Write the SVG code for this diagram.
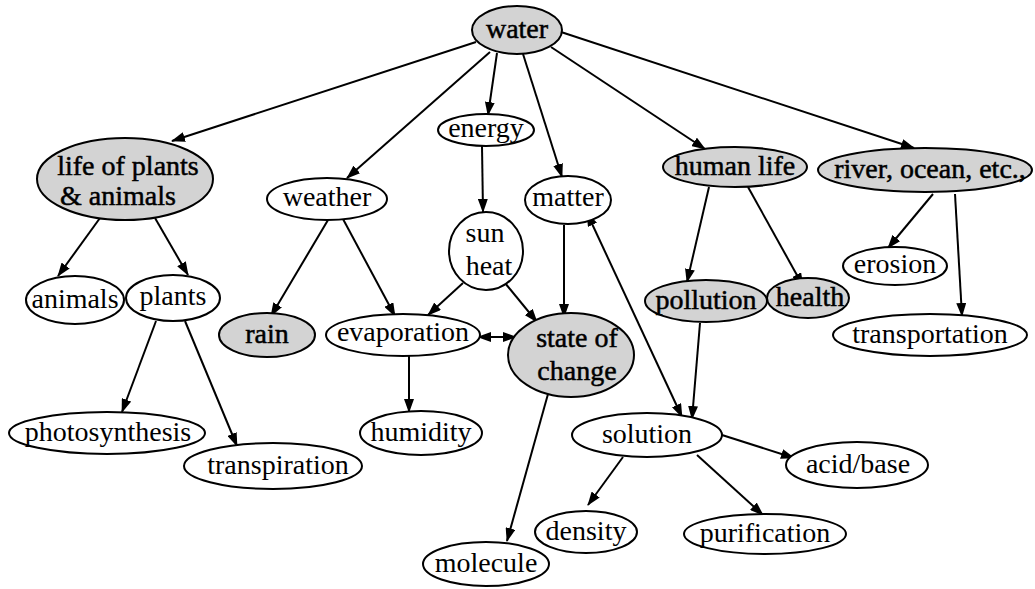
<svg xmlns="http://www.w3.org/2000/svg" width="1035" height="589" viewBox="0 0 1035 589">
<style>
  .n ellipse{fill:#fff;stroke:#000;stroke-width:2}
  .s ellipse{fill:#d3d3d3;stroke:#000;stroke-width:2}
  text{fill:#000;text-anchor:middle;font-size:28px}
  .s text{stroke:#000;stroke-width:0.5}
  .e line{stroke:#000;stroke-width:2;fill:none}
</style>
<defs>
  <marker id="a" markerUnits="userSpaceOnUse" markerWidth="14" markerHeight="10" refX="13" refY="5" orient="auto-start-reverse" viewBox="0 0 14 10">
    <path d="M0,0 L14,5 L0,10 z" fill="#000"/>
  </marker>
</defs>
<g id="edges" class="e">
  <line x1="476" y1="42" x2="172" y2="141" marker-end="url(#a)"/>
  <line x1="490" y1="52" x2="347" y2="178" marker-end="url(#a)"/>
  <line x1="497" y1="53" x2="488" y2="115" marker-end="url(#a)"/>
  <line x1="523" y1="54" x2="562" y2="177" marker-end="url(#a)"/>
  <line x1="551" y1="47" x2="705" y2="149" marker-end="url(#a)"/>
  <line x1="561" y1="32" x2="914" y2="148" marker-end="url(#a)"/>
  <line x1="100" y1="218" x2="58" y2="276" marker-end="url(#a)"/>
  <line x1="155" y1="218" x2="188" y2="275" marker-end="url(#a)"/>
  <line x1="156" y1="321" x2="122" y2="412" marker-end="url(#a)"/>
  <line x1="185" y1="321" x2="237" y2="446" marker-end="url(#a)"/>
  <line x1="328" y1="220" x2="271" y2="316" marker-end="url(#a)"/>
  <line x1="343" y1="219" x2="395" y2="316" marker-end="url(#a)"/>
  <line x1="482" y1="146" x2="483" y2="212" marker-end="url(#a)"/>
  <line x1="463" y1="283" x2="428" y2="315" marker-end="url(#a)"/>
  <line x1="505" y1="283" x2="537" y2="322" marker-end="url(#a)"/>
  <line x1="564" y1="225" x2="564" y2="317" marker-end="url(#a)"/>
  <line x1="478" y1="337" x2="516" y2="337" marker-start="url(#a)" marker-end="url(#a)"/>
  <line x1="587" y1="213" x2="682" y2="417" marker-start="url(#a)" marker-end="url(#a)"/>
  <line x1="700" y1="323" x2="692" y2="419" marker-end="url(#a)"/>
  <line x1="548" y1="394" x2="507" y2="541" marker-end="url(#a)"/>
  <line x1="409" y1="356" x2="409" y2="412" marker-end="url(#a)"/>
  <line x1="709" y1="187" x2="687" y2="282" marker-end="url(#a)"/>
  <line x1="748" y1="187" x2="803" y2="286" marker-end="url(#a)"/>
  <line x1="933" y1="194" x2="888" y2="248" marker-end="url(#a)"/>
  <line x1="955" y1="194" x2="962" y2="316" marker-end="url(#a)"/>
  <line x1="722" y1="435" x2="794" y2="458" marker-end="url(#a)"/>
  <line x1="623" y1="457" x2="588" y2="505" marker-end="url(#a)"/>
  <line x1="697" y1="455" x2="763" y2="515" marker-end="url(#a)"/>
</g>
<g id="water" class="s"><ellipse cx="517" cy="30" rx="45" ry="24"/><text font-family="Liberation Serif" x="517" y="38">water</text></g>
<g id="life" class="s"><ellipse cx="125" cy="179" rx="88" ry="41"/><text font-family="Liberation Serif" x="128" y="175">life of plants</text><text font-family="Liberation Serif" x="118" y="205">&amp; animals</text></g>
<g id="weather" class="n"><ellipse cx="327" cy="199" rx="60" ry="21"/><text font-family="Liberation Serif" x="327" y="206">weather</text></g>
<g id="energy" class="n"><ellipse cx="486" cy="130" rx="48" ry="16"/><text font-family="Liberation Serif" x="486" y="137">energy</text></g>
<g id="matter" class="n"><ellipse cx="568" cy="200" rx="43" ry="24"/><text font-family="Liberation Serif" x="568" y="206">matter</text></g>
<g id="sunheat" class="n"><ellipse cx="486" cy="251" rx="37" ry="39"/><text font-family="Liberation Serif" x="485" y="242">sun</text><text font-family="Liberation Serif" x="489" y="275">heat</text></g>
<g id="human" class="s"><ellipse cx="735" cy="167" rx="72" ry="20"/><text font-family="Liberation Serif" x="735" y="175">human life</text></g>
<g id="river" class="s"><ellipse cx="925" cy="170" rx="107" ry="22"/><text font-family="Liberation Serif" x="930" y="178">river, ocean, etc.,</text></g>
<g id="animals" class="n"><ellipse cx="75" cy="300" rx="49" ry="24"/><text font-family="Liberation Serif" x="75" y="308">animals</text></g>
<g id="plants" class="n"><ellipse cx="173" cy="298" rx="47" ry="23"/><text font-family="Liberation Serif" x="173" y="305">plants</text></g>
<g id="rain" class="s"><ellipse cx="267" cy="335" rx="48" ry="22"/><text font-family="Liberation Serif" x="267" y="343">rain</text></g>
<g id="evaporation" class="n"><ellipse cx="403" cy="335" rx="77" ry="21"/><text font-family="Liberation Serif" x="403" y="341">evaporation</text></g>
<g id="state" class="s"><ellipse cx="571" cy="355" rx="63" ry="42"/><text font-family="Liberation Serif" x="577" y="347">state of</text><text font-family="Liberation Serif" x="577" y="380">change</text></g>
<g id="pollution" class="s"><ellipse cx="706" cy="301" rx="61" ry="21"/><text font-family="Liberation Serif" x="706" y="309">pollution</text></g>
<g id="health" class="s"><ellipse cx="808" cy="298" rx="41" ry="20"/><text font-family="Liberation Serif" x="810" y="306">health</text></g>
<g id="erosion" class="n"><ellipse cx="895" cy="266" rx="52" ry="19"/><text font-family="Liberation Serif" x="895" y="273">erosion</text></g>
<g id="transportation" class="n"><ellipse cx="930" cy="335" rx="97" ry="21"/><text font-family="Liberation Serif" x="930" y="343">transportation</text></g>
<g id="photosynthesis" class="n"><ellipse cx="107" cy="433" rx="98" ry="21"/><text font-family="Liberation Serif" x="108" y="441">photosynthesis</text></g>
<g id="transpiration" class="n"><ellipse cx="273" cy="466" rx="89" ry="23"/><text font-family="Liberation Serif" x="278" y="474">transpiration</text></g>
<g id="humidity" class="n"><ellipse cx="421" cy="433" rx="61" ry="22"/><text font-family="Liberation Serif" x="421" y="441">humidity</text></g>
<g id="solution" class="n"><ellipse cx="647" cy="435" rx="75" ry="22"/><text font-family="Liberation Serif" x="647" y="443">solution</text></g>
<g id="acidbase" class="n"><ellipse cx="857" cy="465" rx="71" ry="23"/><text font-family="Liberation Serif" x="858" y="473">acid/base</text></g>
<g id="density" class="n"><ellipse cx="586" cy="532" rx="51" ry="21"/><text font-family="Liberation Serif" x="586" y="540">density</text></g>
<g id="purification" class="n"><ellipse cx="765" cy="534" rx="81" ry="20"/><text font-family="Liberation Serif" x="765" y="542">purification</text></g>
<g id="molecule" class="n"><ellipse cx="486" cy="564" rx="63" ry="22"/><text font-family="Liberation Serif" x="486" y="572">molecule</text></g>
</svg>
